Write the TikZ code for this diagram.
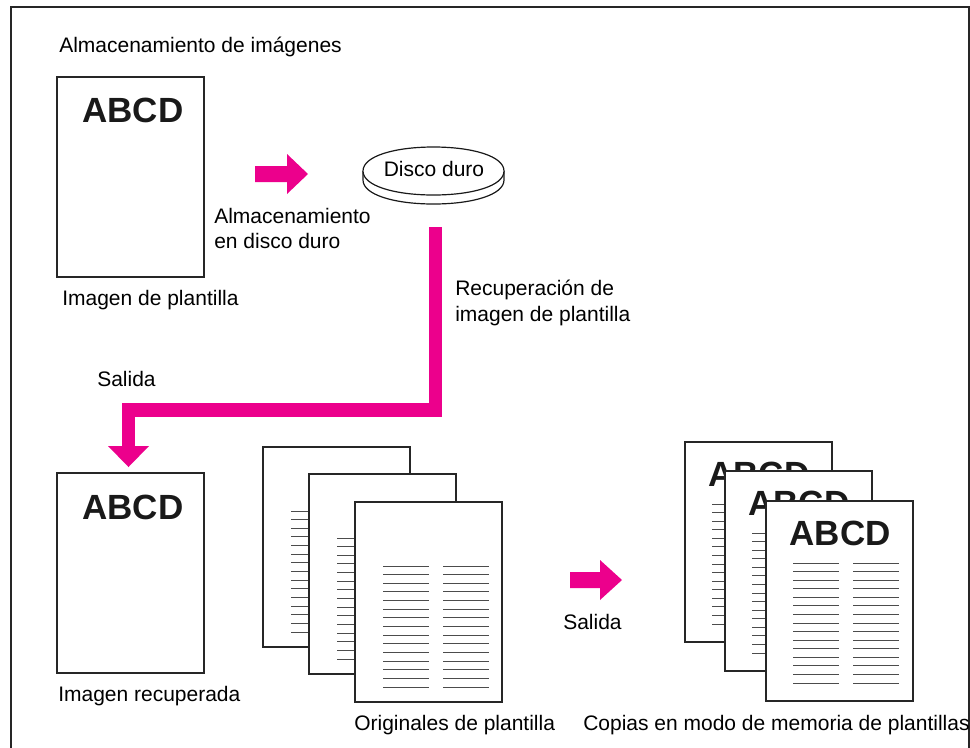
\documentclass[tikz,border=0pt]{standalone}
\usepackage{fontspec}
\setmainfont{Liberation Sans}
\definecolor{magink}{HTML}{EC008C}
\begin{document}
\begin{tikzpicture}[x=0.75pt,y=-0.75pt,
  lbl/.style={font=\fontsize{15.75pt}{19pt}\selectfont, inner sep=0pt, anchor=base west},
  big/.style={font=\fontsize{26.25pt}{30pt}\selectfont\bfseries, inner sep=0pt, text=black!90},
  pagebox/.style={draw=black!85, line width=0.85pt, fill=white, minimum width=110.25pt, minimum height=150pt, inner sep=0pt, outer sep=0pt, anchor=north west},
  textline/.style={draw=black!70, line width=0.7pt},
  pinkline/.style={draw=magink, line width=10pt, line join=miter},
  pinkfill/.style={fill=magink, draw=none},
  frameline/.style={draw=black!85, line width=0.8pt},
  diskline/.style={draw=black!90, line width=0.9pt, fill=white}
]
\useasboundingbox (0,0) rectangle (970,747);
\fill[white] (0,0) rectangle (970,747);
% frame
\draw[frameline] (11,750) |- (969,7) -- (969,750);

% title
\node[lbl] (title) at (59,52) {Almacenamiento de imágenes};

% top template page
\node[pagebox] (p1) at (57,77) {};
\node[big] (abcd1) at (133,110.5) {ABCD};
\node[lbl] (cap1) at (62,305) {Imagen de plantilla};

% arrow 1
\fill[pinkfill] (255,166) -- (287,166) -- (287,154) -- (308,174) -- (287,194) -- (287,182) -- (255,182) -- cycle;
\node[lbl] (st1) at (214,223) {Almacenamiento};
\node[lbl] (st2) at (214,248) {en disco duro};

% disk
\draw[diskline] (363,171) -- (363,180) .. controls (363,195) and (395,204) .. (433.5,204)
  .. controls (472,204) and (504,195) .. (504,180) -- (504,171);
\draw[diskline] (363,171) .. controls (363,156) and (395,147) .. (433.5,147)
  .. controls (472,147) and (504,156) .. (504,171)
  .. controls (504,186) and (472,195) .. (433.5,195)
  .. controls (395,195) and (363,186) .. (363,171) -- cycle;
\node[lbl, anchor=center] (disk) at (434,168.5) {Disco duro};

% retrieval connector
\coordinate (c1) at (435.5,227);
\coordinate (c2) at (128.5,410);
\coordinate (c3) at (128.5,447);
\draw[pinkline] (c1) |- (c2) -- (c3);
\fill[pinkfill] (108,446) -- (149,446) -- (128.5,467) -- cycle;
\node[lbl] (rec1) at (455,295) {Recuperación de};
\node[lbl] (rec2) at (455,321) {imagen de plantilla};
\node[lbl] (sal1) at (97,386) {Salida};

% retrieved page
\node[pagebox] (p2) at (57,473) {};
\node[big] (abcd2) at (133,507) {ABCD};
\node[lbl] (cap2) at (58,701) {Imagen recuperada};

% originals stack
\foreach \px/\py/\nm in {263/447/oa, 309/474/ob, 355/502/oc}{
  \node[pagebox] (\nm) at (\px,\py) {};
  \foreach \i in {0,...,14}{
    \draw[textline] (\px+28,\py+64+8.64*\i) -- ++(46,0);
    \draw[textline] (\px+88,\py+64+8.64*\i) -- ++(46,0);
  }
}
\node[lbl] (cap3) at (354,730) {Originales de plantilla};

% arrow 2
\fill[pinkfill] (570,572) -- (600,572) -- (600,560) -- (622,580) -- (600,600) -- (600,588) -- (570,588) -- cycle;
\node[lbl] (sal2) at (563,629) {Salida};

% output copies stack
\foreach \px/\py/\nm in {685/442/ca, 725/471/cb, 766/501/cc}{
  \node[pagebox] (\nm) at (\px,\py) {};
  \node[big] at (\px+74,\py+32) {ABCD};
  \foreach \i in {0,...,14}{
    \draw[textline] (\px+27,\py+62+8.57*\i) -- ++(46,0);
    \draw[textline] (\px+87,\py+62+8.57*\i) -- ++(46,0);
  }
}
\node[lbl] (cap4) at (583,730) {Copias en modo de memoria de plantillas};
\end{tikzpicture}
\end{document}
